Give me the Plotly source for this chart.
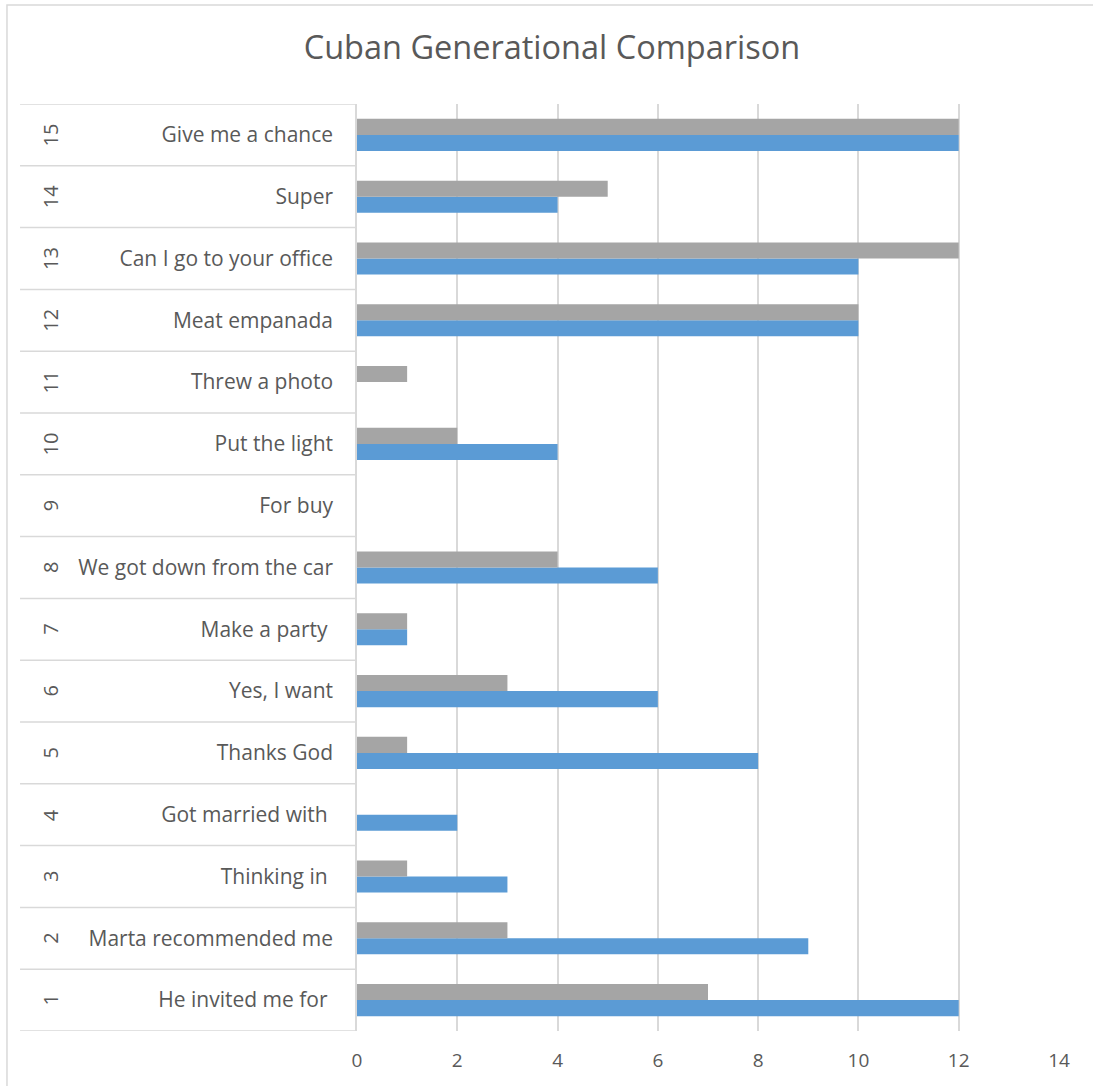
import plotly.graph_objects as go

# Phrase rows, numbered 1-15 from the bottom up
row_numbers = [str(i) for i in range(1, 16)]
phrases = [
    "He invited me for\u00a0",
    "Marta recommended me",
    "Thinking in\u00a0",
    "Got married with\u00a0",
    "Thanks God",
    "Yes, I want",
    "Make a party\u00a0",
    "We got down from the car",
    "For buy",
    "Put the light",
    "Threw a photo",
    "Meat empanada",
    "Can I go to your office",
    "Super",
    "Give me a chance",
]

# Counts per phrase for the two generations
gen_blue = [12, 9, 3, 2, 8, 6, 1, 6, 0, 4, 0, 10, 10, 4, 12]
gen_gray = [7, 3, 1, 0, 1, 3, 1, 4, 0, 2, 1, 10, 12, 5, 12]

x_ticks = [0, 2, 4, 6, 8, 10, 12, 14]

TEXT = "#595959"
GRID = "#d9d9d9"
FONT = "Open Sans"

fig = go.Figure()
fig.add_trace(go.Bar(y=row_numbers, x=gen_blue, orientation="h",
                     marker=dict(color="#5B9BD5", line=dict(width=0)),
                     name="Series A"))
fig.add_trace(go.Bar(y=row_numbers, x=gen_gray, orientation="h",
                     marker=dict(color="#A5A5A5", line=dict(width=0)),
                     name="Series B"))

shapes = []
# row separators in the label column
for i in range(len(row_numbers) + 1):
    shapes.append(dict(type="line", xref="paper", yref="y",
                       x0=-0.48, x1=0, y0=i - 0.5, y1=i - 0.5,
                       line=dict(color=GRID, width=1.5)))
# outer chart border
shapes.append(dict(type="rect", xref="paper", yref="paper",
                   x0=-0.4986, x1=1.2, y0=-0.2, y1=1.1068,
                   line=dict(color=GRID, width=1.5), fillcolor="rgba(0,0,0,0)",
                   layer="below"))

# rotated row numbers, placed by category index
annotations = []
for idx, n in enumerate(row_numbers):
    annotations.append(dict(xref="paper", yref="y", x=-0.4587, y=idx,
                            text=n, textangle=-90, showarrow=False,
                            font=dict(family=FONT, size=20, color=TEXT)))

fig.update_layout(
    width=1093, height=1086,
    margin=dict(l=357, r=34, t=104, b=55),
    paper_bgcolor="white", plot_bgcolor="white",
    barmode="group", bargap=0.48, bargroupgap=0,
    showlegend=False,
    title=dict(text="Cuban Generational Comparison", x=0.505, xanchor="center",
               y=1 - 48 / 1086, yanchor="middle",
               font=dict(family=FONT, size=32.5, color=TEXT)),
    font=dict(family=FONT, color=TEXT),
    shapes=shapes,
    annotations=annotations,
    xaxis=dict(range=[0, 14], tickvals=x_ticks, showgrid=True, gridcolor=GRID,
               gridwidth=1.5, zeroline=False, showline=False,
               ticklabelstandoff=16, tickfont=dict(family=FONT, size=19, color=TEXT),
               fixedrange=True),
    yaxis=dict(type="category", tickvals=row_numbers, ticktext=phrases,
               showgrid=False, zeroline=False, showline=True, linecolor=GRID,
               linewidth=1.5, ticklabelstandoff=18,
               tickfont=dict(family=FONT, size=21, color=TEXT),
               range=[-0.5, 14.5], fixedrange=True),
)

fig.write_html("out.html")
